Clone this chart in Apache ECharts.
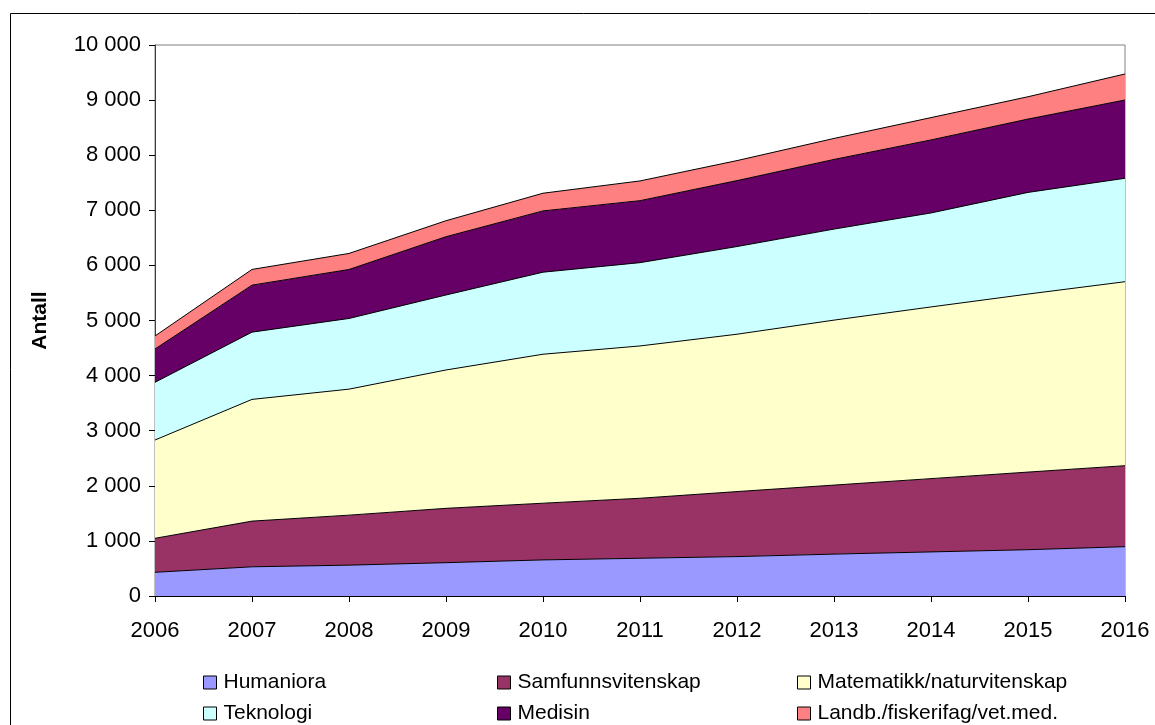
<!DOCTYPE html>
<html>
<head>
<meta charset="utf-8">
<script src="https://cdn.jsdelivr.net/npm/echarts@6/dist/echarts.min.js"></script>
<style>
  html, body { margin: 0; padding: 0; background: #fff; }
  #chart { width: 1155px; height: 725px; }
</style>
</head>
<body>
<div id="chart"></div>
<script>
// Years on the category axis
const years = ['2006', '2007', '2008', '2009', '2010', '2011', '2012', '2013', '2014', '2015', '2016'];

// Counts per field (stacked)
const humaniora = [430, 530, 560, 605, 655, 685, 715, 760, 800, 840, 895];
const samfunnsvitenskap = [617, 829, 907, 986, 1029, 1089, 1180, 1253, 1330, 1409, 1470];
const matematikk = [1784, 2209, 2287, 2511, 2704, 2764, 2856, 2994, 3116, 3231, 3339];
const teknologi = [1047, 1221, 1283, 1361, 1489, 1512, 1591, 1652, 1706, 1845, 1877];
const medisin = [605, 853, 889, 1058, 1112, 1125, 1197, 1264, 1325, 1331, 1421];
const landbruk = [236, 285, 291, 290, 321, 358, 363, 381, 405, 405, 472];

const seriesNames = ['Humaniora', 'Samfunnsvitenskap', 'Matematikk/naturvitenskap',
                     'Teknologi', 'Medisin', 'Landb./fiskerifag/vet.med.'];
const seriesData = [humaniora, samfunnsvitenskap, matematikk, teknologi, medisin, landbruk];
const seriesColors = ['#9999FF', '#993366', '#FFFFCC', '#CCFFFF', '#660066', '#FF8080'];

const FONT = '"Liberation Sans", Arial, sans-serif';

const chart = echarts.init(document.getElementById('chart'), null, { renderer: 'canvas' });

// Legend: three columns, two rows
const legendCols = [203, 497, 797];
const legendRows = [672, 703];

function legendItem(idx) {
  const col = idx % 3, row = Math.floor(idx / 3);
  return {
    orient: 'horizontal',
    left: legendCols[col],
    top: legendRows[row],
    padding: 0,
    itemWidth: 13,
    itemHeight: 13,
    itemGap: 8,
    icon: 'rect',
    data: [seriesNames[idx]],
    itemStyle: { borderColor: '#000', borderWidth: 1 },
    textStyle: { fontFamily: FONT, fontSize: 21, color: '#000', padding: [0, 0, 0, 2] },
    selectedMode: false
  };
}

const option = {
  animation: false,
  backgroundColor: '#fff',
  graphic: [{
    type: 'rect',
    shape: { x: 10.5, y: 13.5, width: 1160, height: 730 },
    style: { fill: 'none', stroke: '#000', lineWidth: 1 },
    silent: true
  }],
  legend: seriesNames.map((_, i) => legendItem(i)),
  grid: {
    left: 155, right: 30, top: 45, bottom: 129,
    show: true, borderColor: '#808080', borderWidth: 1, backgroundColor: 'transparent'
  },
  xAxis: {
    type: 'category',
    data: years,
    boundaryGap: false,
    axisLine: { lineStyle: { color: '#000', width: 1 } },
    axisTick: { show: true, length: 6, lineStyle: { color: '#000' } },
    axisLabel: { fontFamily: FONT, fontSize: 22, color: '#000', margin: 24 },
    splitLine: { show: false }
  },
  yAxis: {
    type: 'value',
    min: 0, max: 10000, interval: 1000,
    name: 'Antall',
    nameLocation: 'middle',
    nameGap: 104,
    nameRotate: 90,
    nameTextStyle: { fontFamily: FONT, fontSize: 21, fontWeight: 'bold', color: '#000' },
    axisLine: { show: true, lineStyle: { color: '#404040', width: 1 } },
    axisTick: { show: true, length: 6, lineStyle: { color: '#000' } },
    axisLabel: {
      fontFamily: FONT, fontSize: 22, color: '#000', margin: 14,
      // thousands separated by a space
      formatter: v => String(v).replace(/\B(?=(\d{3})+(?!\d))/g, ' ')
    },
    splitLine: { show: false }
  },
  series: seriesNames.map((name, i) => ({
    name: name,
    type: 'line',
    stack: 'total',
    data: seriesData[i],
    symbol: 'none',
    color: seriesColors[i],
    lineStyle: { color: '#000', width: 1 },
    areaStyle: { color: seriesColors[i], opacity: 1 },
    itemStyle: { color: seriesColors[i] },
    emphasis: { disabled: true }
  }))
};

chart.setOption(option);
</script>
</body>
</html>
